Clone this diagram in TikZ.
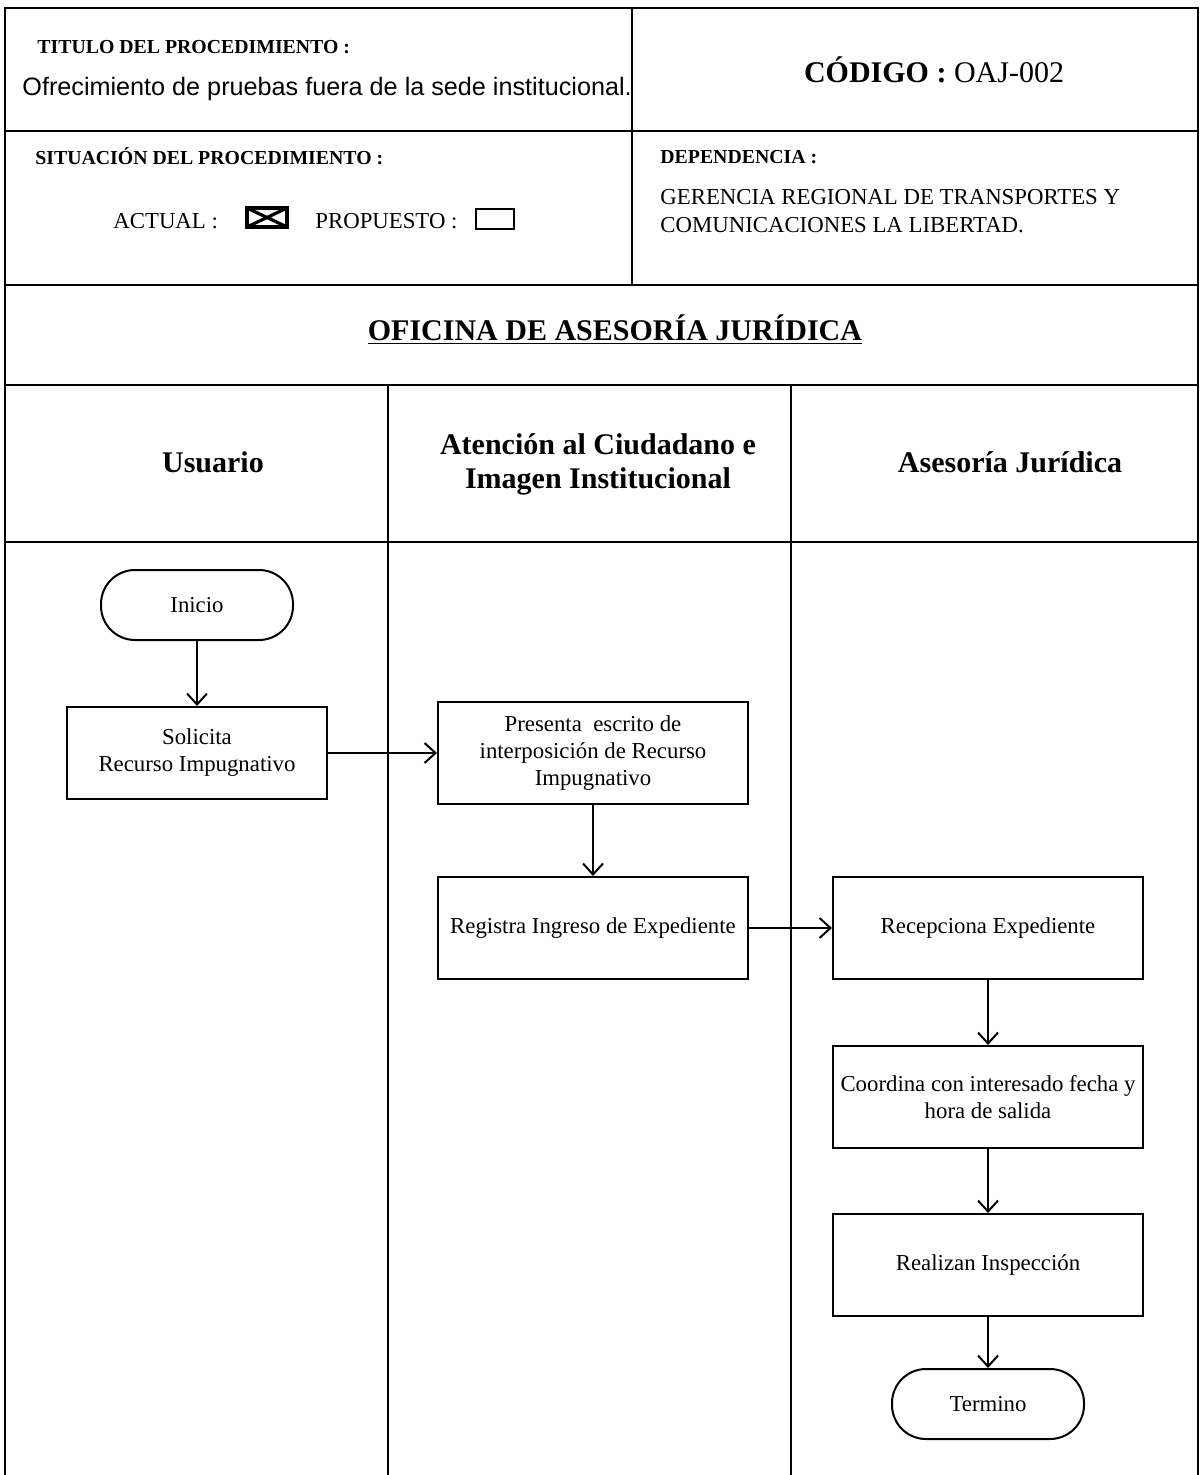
\documentclass[tikz,border=0pt]{standalone}
\usepackage{fontspec}
\setmainfont{Liberation Serif}
\newfontfamily\arialfont{Liberation Sans}
\usetikzlibrary{arrows.meta}
\tikzset{
  hdr/.style={anchor=west,inner sep=0pt,font=\fontsize{9.9}{11}\selectfont\bfseries},
  txt/.style={anchor=west,inner sep=0pt,align=left,font=\fontsize{11.4}{14}\selectfont},
  lane/.style={align=center,font=\fontsize{15}{17}\selectfont\bfseries},
  proc/.style={draw,line width=1pt,inner sep=2pt,minimum width=155pt,minimum height=51pt,align=center,font=\fontsize{11.4}{13.5}\selectfont},
  term/.style={draw,line width=1pt,rounded corners=17pt,minimum width=96pt,minimum height=35pt,font=\fontsize{11.4}{13.5}\selectfont},
  flow/.style={line width=1pt,-{Straight Barb[length=5.5pt,width=10pt]}},
}
\begin{document}
\begin{tikzpicture}[x=0.5pt,y=-0.5pt]
\useasboundingbox (0,0) rectangle (1200,1475);
% table frame
\draw[line width=1pt](5,1475)--(5,8)--(1198,8)--(1198,1475);
\draw[line width=1pt](632,8)--(632,285);
\draw[line width=1pt](5,131)--(1198,131);
\draw[line width=0.8pt](5,285)--(1198,285);
\draw[line width=0.8pt](5,385)--(1198,385);
\draw[line width=0.8pt](5,542)--(1198,542);
\foreach \x in {388,791} {\draw[line width=0.8pt](\x,385)--(\x,1475);}
% header
\node[hdr] (titulo) at (37,47) {TITULO DEL PROCEDIMIENTO :};
\node[anchor=west,inner sep=0pt,font=\arialfont\fontsize{12.6}{14}\selectfont] (nombre) at (22,89) {Ofrecimiento de pruebas fuera de la sede institucional.};
\node[font=\fontsize{15}{17}\selectfont] (codigo) at (934,70) {\textbf{CÓDIGO :} OAJ-002};
\node[hdr] (situacion) at (35,156) {SITUACIÓN DEL PROCEDIMIENTO :};
\node[txt] (actual) at (113,221) {ACTUAL :};
\draw[line width=1.6pt](247,208) rectangle (287,227);
\draw[line width=1.6pt](247,208)--(287,227) (247,227)--(287,208);
\node[txt] (propuesto) at (315,221) {PROPUESTO :};
\draw[line width=1.2pt](476,209) rectangle (514,229);
\node[hdr] (dependencia) at (660,157) {DEPENDENCIA :};
\node[txt] (gerencia) at (660,211) {GERENCIA REGIONAL DE TRANSPORTES Y\\COMUNICACIONES LA LIBERTAD.};
\node[lane] (oficina) at (615,330) {\underline{OFICINA DE ASESORÍA JURÍDICA}};
% lanes
\node[lane] (usuario) at (213,462) {Usuario};
\node[lane] (atencion) at (598,464) {Atención al Ciudadano e\\Imagen Institucional};
\node[lane] (asesoria) at (1010,462) {Asesoría Jurídica};
% flow
\node[term] (inicio) at (197,605) {Inicio};
\node[proc,minimum width=130pt,minimum height=46pt] (solicita) at (197,753) {Solicita\\Recurso Impugnativo};
\node[proc] (presenta) at (593,753) {Presenta\ \ escrito de\\interposición de Recurso\\Impugnativo};
\node[proc] (registra) at (593,928) {Registra Ingreso de Expediente};
\node[proc] (recepciona) at (988,928) {Recepciona Expediente};
\node[proc] (coordina) at (988,1097) {Coordina con interesado fecha y\\hora de salida};
\node[proc] (realizan) at (988,1265) {Realizan Inspección};
\node[term] (termino) at (988,1404) {Termino};
\draw[flow](inicio)--(solicita);
\draw[flow](solicita)--(presenta);
\draw[flow](presenta)--(registra);
\draw[flow](registra)--(recepciona);
\draw[flow](recepciona)--(coordina);
\draw[flow](coordina)--(realizan);
\draw[flow](realizan)--(termino);
\end{tikzpicture}
\end{document}
